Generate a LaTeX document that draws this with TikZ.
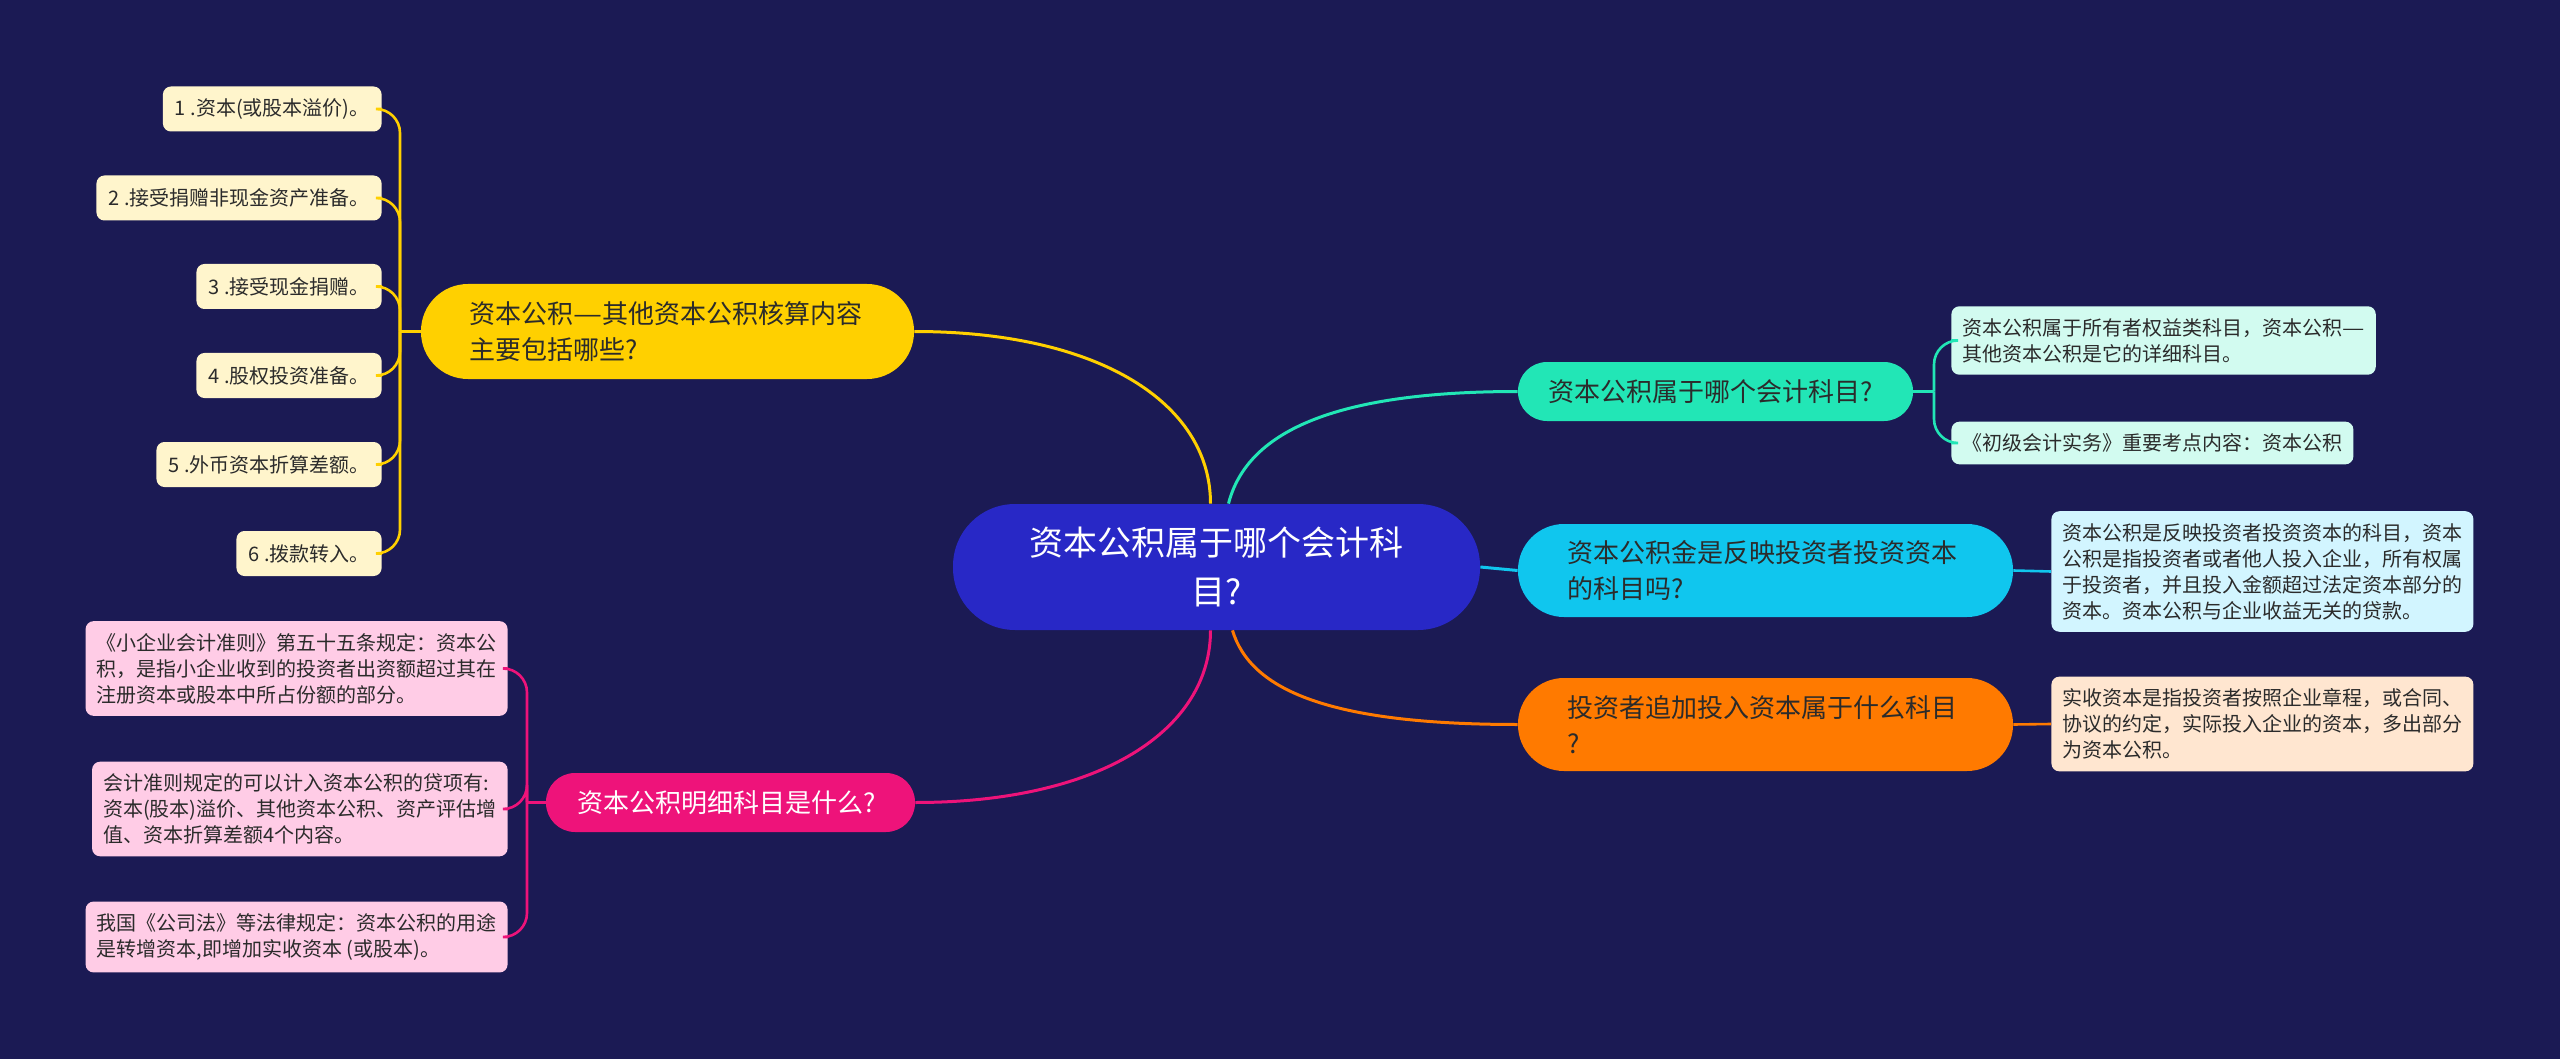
\documentclass[tikz,border=0pt]{standalone}
\usepackage{fontspec}
\setmainfont{Noto Sans CJK SC}
\usetikzlibrary{calc}
\definecolor{bg}{HTML}{1B1A54}
\definecolor{cblue}{HTML}{2828C6}
\definecolor{cyel}{HTML}{FFD000}
\definecolor{cteal}{HTML}{22E6B6}
\definecolor{ccyan}{HTML}{10C6EE}
\definecolor{corange}{HTML}{FF7A00}
\definecolor{cpink}{HTML}{EE137A}
\definecolor{lyel}{HTML}{FFF5CC}
\definecolor{lpink}{HTML}{FFCCE6}
\definecolor{lteal}{HTML}{D2FBF0}
\definecolor{lcyan}{HTML}{D2F5FF}
\definecolor{lorange}{HTML}{FFE6D0}
\definecolor{dtext}{HTML}{2B2B2B}
\newcommand{\wdash}{\scalebox{1.25}[1]{—}}
\tikzset{
  branch/.style={align=left, inner ysep=0pt, text=dtext, font=\fontsize{13pt}{18pt}\selectfont},
  leaf/.style={rounded corners=4pt, align=left, inner xsep=5.5pt, inner ysep=6pt, text=dtext, font=\fontsize{10pt}{13pt}\selectfont},
  yleaf/.style={leaf, fill=lyel, inner xsep=6pt, anchor=east, minimum height=22.5pt},
  conn/.style={line width=1.5pt},
  trunk/.style={line width=1.3pt, rounded corners=12pt},
}
\begin{document}
\begin{tikzpicture}[x=0.5pt,y=-0.5pt]
\fill[bg] (0,0) rectangle (2560,1059);
\useasboundingbox (0,0) rectangle (2560,1059);

% centre
\node[fill=cblue, text=white, minimum width=263.5pt, minimum height=63pt, rounded corners=31pt, align=center, inner sep=0pt, font=\fontsize{17pt}{24.5pt}\selectfont] (c) at (1216.5,567) {资本公积属于哪个会计科\\目?};

% main branches
\node[branch, fill=cyel, text width=198.5pt, inner xsep=24pt, minimum height=47.5pt, rounded corners=23.5pt] (y) at (667.5,331.5) {资本公积\wdash 其他资本公积核算内容\\主要包括哪些?};
\node[branch, fill=cpink, text=white, text width=153.5pt, inner xsep=15.5pt, minimum height=29.5pt, rounded corners=14.5pt] (p) at (730.5,802.5) {资本公积明细科目是什么?};
\node[branch, fill=cteal, text width=167.5pt, inner xsep=15pt, minimum height=29.5pt, rounded corners=14.5pt] (t) at (1715.5,391.5) {资本公积属于哪个会计科目?};
\node[branch, fill=ccyan, text width=198.5pt, inner xsep=24.5pt, minimum height=46.5pt, rounded corners=23pt] (cy) at (1765.5,570.5) {资本公积金是反映投资者投资资本\\的科目吗?};
\node[branch, fill=corange, text width=198.5pt, inner xsep=24.5pt, minimum height=46.5pt, rounded corners=23pt] (o) at (1765.5,724.5) {投资者追加投入资本属于什么科目\\?};

% yellow leaves
\node[yleaf] (y1) at (382,109) {1 .资本(或股本溢价)。};
\node[yleaf] (y2) at (382,198) {2 .接受捐赠非现金资产准备。};
\node[yleaf] (y3) at (382,286.5) {3 .接受现金捐赠。};
\node[yleaf] (y4) at (382,375.5) {4 .股权投资准备。};
\node[yleaf] (y5) at (382,464.5) {5 .外币资本折算差额。};
\node[yleaf] (y6) at (382,553.5) {6 .拨款转入。};

% pink leaves
\node[leaf, fill=lpink, anchor=east] (p1) at (508,668.5) {《小企业会计准则》第五十五条规定：资本公\\积，是指小企业收到的投资者出资额超过其在\\注册资本或股本中所占份额的部分。};
\node[leaf, fill=lpink, anchor=east] (p2) at (508,809) {会计准则规定的可以计入资本公积的贷项有:\\资本(股本)溢价、其他资本公积、资产评估增\\值、资本折算差额4个内容。};
\node[leaf, fill=lpink, anchor=east] (p3) at (508,937) {我国《公司法》等法律规定：资本公积的用途\\是转增资本,即增加实收资本 (或股本)。};

% teal leaves
\node[leaf, fill=lteal, anchor=west] (t1) at (1951,340.5) {资本公积属于所有者权益类科目，资本公积\wdash\\其他资本公积是它的详细科目。};
\node[leaf, fill=lteal, anchor=west] (t2) at (1951,443) {《初级会计实务》重要考点内容：资本公积};

% cyan leaf
\node[leaf, fill=lcyan, anchor=west] (cy1) at (2051,571.5) {资本公积是反映投资者投资资本的科目，资本\\公积是指投资者或者他人投入企业，所有权属\\于投资者，并且投入金额超过法定资本部分的\\资本。资本公积与企业收益无关的贷款。};

% orange leaf
\node[leaf, fill=lorange, anchor=west] (o1) at (2051,724) {实收资本是指投资者按照企业章程，或合同、\\协议的约定，实际投入企业的资本，多出部分\\为资本公积。};

% centre connectors
\draw[conn, draw=cyel] (y.east) .. controls (1100,331.5) and ($(c.north)+(-6,-100)$) .. ($(c.north)+(-6,0)$);
\draw[conn, draw=cteal] ($(c.north)+(12,0)$) .. controls ($(c.north)+(30,-70)$) and (1330,391.5) .. (t.west);
\draw[conn, draw=ccyan] (c.east) -- (cy.west);
\draw[conn, draw=corange] ($(c.south)+(16,0)$) .. controls ($(c.south)+(34,60)$) and (1330,724.5) .. (o.west);
\draw[conn, draw=cpink] ($(c.south)+(-6,0)$) .. controls ($(c.south)+(-6,100)$) and (1100,802.5) .. (p.east);

% yellow trunk
\draw[trunk, draw=cyel] (y.west) -- (400,331.5) coordinate (yj);
\foreach \n in {y1,y2,y3,y4,y5,y6} \draw[trunk, draw=cyel] (yj) |- (\n.east);
% pink trunk
\draw[trunk, draw=cpink] (p.west) -- (527,802.5) coordinate (pj);
\foreach \n in {p1,p2,p3} \draw[trunk, draw=cpink] (pj) |- (\n.east);
% teal trunk
\draw[trunk, draw=cteal] (t.east) -- (1934,391.5) coordinate (tj);
\foreach \n in {t1,t2} \draw[trunk, draw=cteal] (tj) |- (\n.west);
% cyan, orange
\draw[trunk, draw=ccyan] (cy.east) -- (cy1.west);
\draw[trunk, draw=corange] (o.east) -- (o1.west);
\end{tikzpicture}
\end{document}
